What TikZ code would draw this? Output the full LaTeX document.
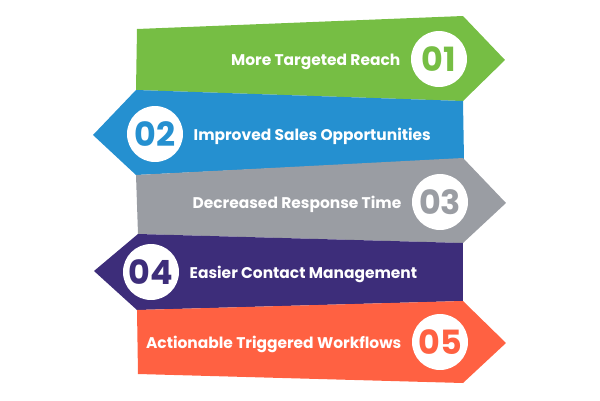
\documentclass[tikz,border=0pt]{standalone}
\usepackage{fontspec}
\setmainfont{Poppins}
\usetikzlibrary{positioning}
\definecolor{bandgreen}{RGB}{118,190,68}
\definecolor{bandblue}{RGB}{37,144,208}
\definecolor{bandgray}{RGB}{154,157,163}
\definecolor{bandpurple}{RGB}{61,45,122}
\definecolor{bandorange}{RGB}{255,97,66}
\begin{document}
\begin{tikzpicture}[x=0.02cm,y=-0.02cm,
    num/.style={circle,fill=white,minimum size=1.12cm,inner sep=0pt,font=\fontsize{19}{19}\selectfont\bfseries},
    lbl/.style={text=white,inner sep=0pt,text height=0.7em,text depth=0pt,font=\fontsize{8.8}{10}\selectfont\bfseries}]
        \useasboundingbox (0,0) rectangle (600,400);
        % bands
        \fill[bandgreen] (137,29) -- (463,16) -- (505,60) -- (463,101) -- (136,90) -- cycle;
        \fill[bandblue] (136,90) -- (463,101) -- (464,159) -- (136,175) -- (93,135) -- cycle;
        \fill[bandgray] (136,175) -- (463,158) -- (506,203) -- (463,243) -- (138,234) -- cycle;
        \fill[bandpurple] (138,234) -- (463,243) -- (463,301) -- (137,310) -- (94,271) -- cycle;
        \fill[bandorange] (137,310) -- (463,301) -- (506,343) -- (463,383) -- (138,374) -- cycle;
        % numbers
        \node[num,text=bandgreen] (n1) at (439,59) {01};
        \node[num,text=bandblue] (n2) at (155,134) {02};
        \node[num,text=bandgray] (n3) at (440,202) {03};
        \node[num,text=bandpurple] (n4) at (151,272) {04};
        \node[num,text=bandorange] (n5) at (440,342) {05};
        % labels
        \node[lbl,left=0.2cm of n1] (reach) {More Targeted Reach};
        \node[lbl,right=0.2cm of n2] (sales) {Improved Sales Opportunities};
        \node[lbl,left=0.2cm of n3] (response) {Decreased Response Time};
        \node[lbl,right=0.2cm of n4] (contact) {Easier Contact Management};
        \node[lbl,left=0.2cm of n5] (workflows) {Actionable Triggered Workflows};
    \end{tikzpicture}
\end{document}
